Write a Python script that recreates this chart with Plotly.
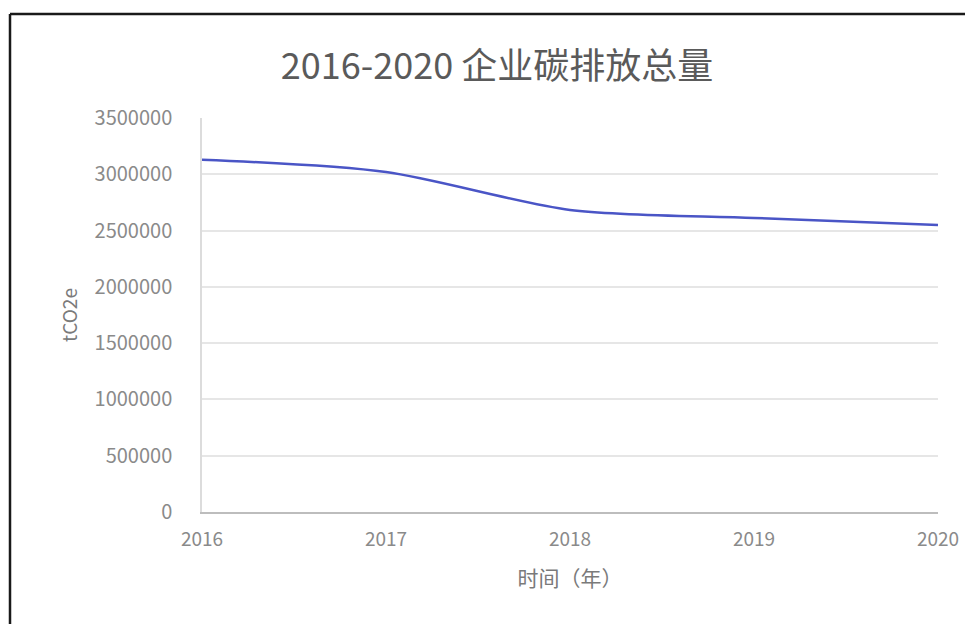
import plotly.graph_objects as go

years = [2016, 2017, 2018, 2019, 2020]
year_labels = ["2016", "2017", "2018", "2019", "2020"]
emissions = [3130000, 3020000, 2683000, 2612000, 2550000]
y_ticks = [0, 500000, 1000000, 1500000, 2000000, 2500000, 3000000, 3500000]
y_tick_labels = ["0", "500000", "1000000", "1500000", "2000000", "2500000", "3000000", "3500000"]

W, H = 973, 624
OFF = 8  # page body margin
L, R, T, B = 202 - OFF, 938 - OFF, 118 - OFF, 512 - OFF
pw, ph = R - L, B - T

def px(x):
    return (x - OFF - L) / pw

def py(y):
    return (B - (y - OFF)) / ph

FONT = "Noto Sans CJK SC"

fig = go.Figure()
fig.add_trace(go.Scatter(
    x=years, y=emissions, mode="lines",
    line=dict(color="#4a55c6", width=2.5, shape="spline", smoothing=0.8),
    hoverinfo="x+y", showlegend=False,
))

fig.update_layout(
    width=W, height=H,
    margin=dict(l=L, r=W - R, t=T, b=H - B, autoexpand=False),
    paper_bgcolor="white", plot_bgcolor="white",
    font=dict(family=FONT, color="#8a8a8a", size=19),
    title=dict(text="2016-2020 企业碳排放总量", x=(497 - OFF) / W, xanchor="center",
               xref="container", y=1 - (66 - OFF) / H, yref="container", yanchor="middle",
               font=dict(family=FONT, size=36, color="#5a5a5a")),
    xaxis=dict(
        range=[2016, 2020], tickmode="array", tickvals=years, ticktext=year_labels,
        showgrid=False, zeroline=False, showline=True, linecolor="#bdbdbd", linewidth=2,
        ticks="", ticklabelstandoff=9,
        tickfont=dict(family=FONT, size=19, color="#8a8a8a"),
        title=dict(text="时间（年）", standoff=22,
                   font=dict(family=FONT, size=21, color="#7a7a7a")),
    ),
    yaxis=dict(
        range=[0, 3500000], tickmode="array", tickvals=y_ticks, ticktext=y_tick_labels,
        showgrid=True, gridcolor="#e6e6e6", gridwidth=1.5, zeroline=False,
        showline=True, linecolor="#dcdcdc", linewidth=1.5,
        ticks="", ticklabelstandoff=24,
        tickfont=dict(family=FONT, size=20, color="#8a8a8a"),
        title=dict(text="tCO2e", standoff=12,
                   font=dict(family=FONT, size=19, color="#7a7a7a")),
    ),
    shapes=[
        dict(type="line", xref="paper", yref="paper",
             x0=px(10), x1=px(W + 20), y0=py(14), y1=py(14),
             line=dict(color="#1a1a1a", width=2.5)),
        dict(type="line", xref="paper", yref="paper",
             x0=px(10), x1=px(10), y0=py(14), y1=py(H + 20),
             line=dict(color="#1a1a1a", width=2.5)),
    ],
)

fig.write_html("out.html")
